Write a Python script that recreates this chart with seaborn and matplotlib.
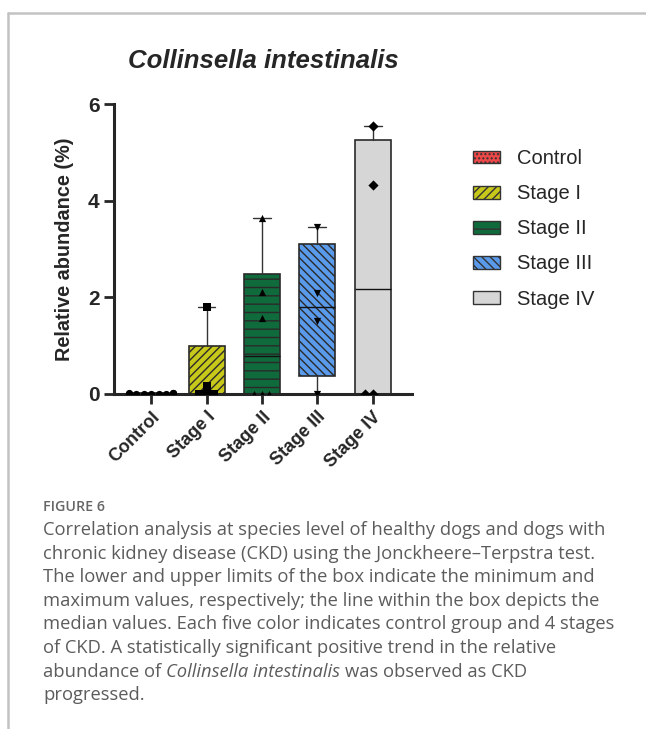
import numpy as np
import pandas as pd
import matplotlib
matplotlib.use("Agg")
import matplotlib.pyplot as plt
import seaborn as sns
from matplotlib.patches import Patch
from matplotlib.lines import Line2D

# valores (abundancia relativa, %)
categorias = ["Control", "Stage I", "Stage II", "Stage III", "Stage IV"]
control_vals = [0.02, 0.03, 0.02, 0.01, 0.0, 0.0, 0.0, 0.0, 0.0]
stage1_vals = [1.80, 0.17, 0.0, 0.0, 0.0]
stage2_vals = [3.65, 2.10, 1.57, 0.0, 0.0, 0.0]
stage3_vals = [3.45, 2.08, 1.52, 0.0]
stage4_vals = [5.55, 4.33, 0.0, 0.0]
y_ticks = [0, 2, 4, 6]

colores = ["#f04848", "#c8c81a", "#0f6a3c", "#5a9aea", "#d6d6d6"]
hatches = ["....", "////", "--", "\\\\\\\\", ""]
marcadores = ["o", "s", "^", "v", "D"]

valores = [control_vals, stage1_vals, stage2_vals, stage3_vals, stage4_vals]
df = pd.DataFrame({
    "grupo": np.repeat(categorias, [len(v) for v in valores]),
    "valor": np.concatenate(valores),
})

sns.set_style("ticks")
plt.rcParams["font.family"] = ["Liberation Sans", "DejaVu Sans"]
plt.rcParams["hatch.linewidth"] = 1.0

fig = plt.figure(figsize=(6.46, 7.29), dpi=100)
ax = fig.add_axes([114 / 646, 1 - 394 / 729, (412 - 114) / 646, (394 - 104) / 729])

# puntos individuales
for g, m in zip(categorias, marcadores):
    sns.swarmplot(data=df[df["grupo"] == g], x="grupo", y="valor", order=categorias,
                  marker=m, color="black", size=5.2, ax=ax, zorder=5, warn_thresh=1)

# cajas: min-max con cuartiles estilo GraphPad
stats = []
for g, v in zip(categorias, valores):
    q1, med, q3 = np.percentile(v, [25, 50, 75], method="weibull")
    stats.append({"label": g, "med": med, "q1": q1, "q3": q3,
                  "whislo": min(v), "whishi": max(v), "fliers": []})

bp = ax.bxp(stats, positions=range(len(categorias)), widths=0.65, capwidths=0.32,
            patch_artist=True, showfliers=False, manage_ticks=False,
            boxprops=dict(edgecolor="#2a2a2a", linewidth=1.2),
            whiskerprops=dict(color="#333333", linewidth=1.0),
            capprops=dict(color="#333333", linewidth=1.0),
            medianprops=dict(color="#111111", linewidth=1.0))
for caja, c, h in zip(bp["boxes"], colores, hatches):
    caja.set_facecolor(c)
    caja.set_hatch(h)
    caja.set_zorder(2)

ax.set_xlim(-0.67, 4.71)
ax.set_ylim(0, 6)
ax.set_yticks(y_ticks)
ax.set_xticks(range(len(categorias)))
ax.set_xticklabels(categorias, rotation=45, ha="right", rotation_mode="anchor",
                   fontsize=13, fontweight="bold")
ax.tick_params(axis="y", labelsize=15, width=2, length=7)
for lab in ax.get_yticklabels():
    lab.set_fontweight("bold")
ax.tick_params(axis="x", width=2, length=7)
ax.set_xlabel("")
ax.set_ylabel("Relative abundance (%)", fontsize=14.3, fontweight="bold", labelpad=10)
sns.despine(ax=ax)
for s in ["left", "bottom"]:
    ax.spines[s].set_linewidth(2.2)

fig.text(263 / 646, 1 - 61 / 729, "Collinsella intestinalis", ha="center", va="center",
         fontsize=18.5, fontweight="bold", style="italic")

# leyenda
handles = [Patch(facecolor=c, hatch=h, edgecolor="#333333", label=g)
           for g, c, h in zip(categorias, colores, hatches)]
fig.legend(handles=handles, loc="upper left", bbox_to_anchor=(455 / 646, 1 - 131 / 729),
           frameon=False, fontsize=14.5, handlelength=1.35, handleheight=0.6,
           labelspacing=0.8, handletextpad=0.85)

# marco gris
fig.add_artist(Line2D([8 / 646, 1], [1 - 13 / 729] * 2, color="#c2c2c2", lw=1.8))
fig.add_artist(Line2D([8 / 646] * 2, [0, 1 - 13 / 729], color="#c2c2c2", lw=1.8))

# pie de figura
gris = "#5c5c5c"
fig.text(43 / 646, 1 - 507 / 729, "FIGURE 6", fontsize=10.3, color="#666666",
         family="Open Sans", fontweight="semibold", va="center")
lineas = [
    "Correlation analysis at species level of healthy dogs and dogs with",
    "chronic kidney disease (CKD) using the Jonckheere\u2013Terpstra test.",
    "The lower and upper limits of the box indicate the minimum and",
    "maximum values, respectively; the line within the box depicts the",
    "median values. Each five color indicates control group and 4 stages",
    "of CKD. A statistically significant positive trend in the relative",
    None,
    "progressed.",
]
renderer = fig.canvas.get_renderer()
for i, txt in enumerate(lineas):
    y = 1 - (530 + 23.6 * i) / 729
    if txt is not None:
        fig.text(43 / 646, y, txt, fontsize=13.2, color=gris, family="Open Sans", va="center")
        continue
    x = 43 / 646
    for parte, estilo in [("abundance of", "normal"), ("Collinsella intestinalis", "italic"),
                          ("was observed as CKD", "normal")]:
        t = fig.text(x, y, parte, fontsize=13.2, color=gris, family="Open Sans",
                     style=estilo, va="center")
        bb = t.get_window_extent(renderer=renderer)
        x = (bb.x1 + 5) / 646

fig.savefig("out.png", dpi=100)
